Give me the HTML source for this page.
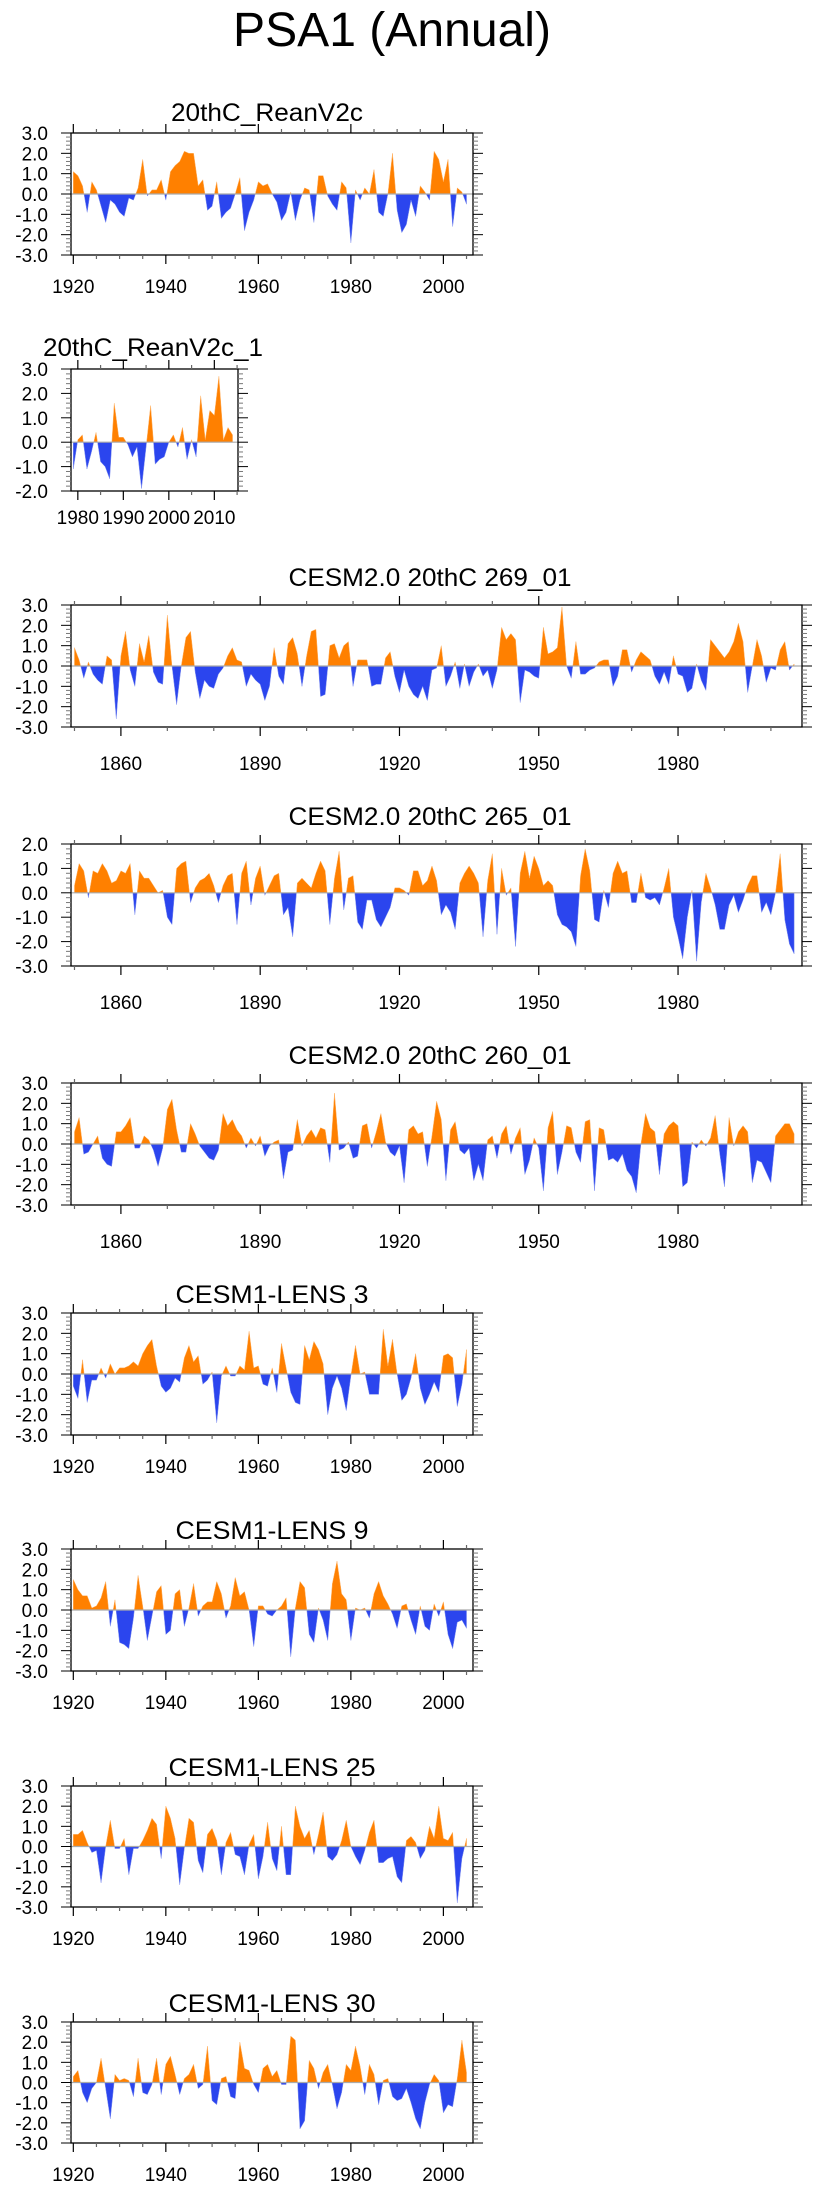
<!DOCTYPE html>
<html><head><meta charset="utf-8"><title>PSA1 (Annual)</title>
<style>
html,body{margin:0;padding:0;background:#fff;}
svg{display:block;font-family:"Liberation Sans",Arial,sans-serif;}
</style></head>
<body>
<svg id="fig" width="825" height="2190" viewBox="0 0 825 2190" xmlns="http://www.w3.org/2000/svg">
<text x="392" y="46" font-size="48" text-anchor="middle" textLength="318" lengthAdjust="spacingAndGlyphs">PSA1 (Annual)</text>
</svg>
<script>
// ---- data (annual PSA1 index values) ----
const reanStart = 1920;
const reanVals = [1.1,0.9,0.4,-0.9,0.6,0.2,-0.6,-1.4,-0.3,-0.5,-0.9,-1.1,-0.2,-0.3,0.3,1.7,-0.1,0.2,0.2,0.7,-0.3,1.1,1.4,1.6,2.1,2.0,2.0,0.4,0.7,-0.8,-0.6,0.6,-1.2,-0.9,-0.7,0.0,0.8,-1.8,-0.9,-0.3,0.6,0.4,0.5,0.0,-0.4,-1.3,-0.9,0.1,-1.3,-0.3,0.3,0.2,-1.4,0.9,0.9,-0.1,-0.5,-0.8,0.6,0.3,-2.4,0.2,-0.3,0.3,0.0,1.2,-0.9,-1.1,0.0,2.0,-0.8,-1.9,-1.5,-0.3,-1.1,0.4,0.1,-0.3,2.1,1.7,0.6,1.7,-1.6,0.3,0.1,-0.5];
const rean1Start = 1979;
const rean1Vals = [-1.1,0.1,0.3,-1.1,-0.4,0.4,-0.8,-1.0,-1.5,1.6,0.2,0.2,-0.1,-0.6,-0.2,-1.9,-0.2,1.5,-0.9,-0.7,-0.6,0.0,0.3,-0.2,0.6,-0.7,0.1,-0.6,1.9,0.1,1.3,1.1,2.7,0.1,0.6,0.3];
const cesm2Start = 1850;
const cesm269Vals = [0.9,0.3,-0.6,0.2,-0.4,-0.7,-0.9,0.5,0.3,-2.6,0.5,1.7,-0.2,-1.0,1.1,0.2,1.5,-0.3,-0.8,-0.9,2.5,0.0,-1.9,0.0,1.4,1.7,-0.3,-1.6,-0.7,-1.0,-1.1,-0.4,-0.1,0.5,0.9,0.3,0.2,-1.0,-0.4,-0.7,-0.9,-1.7,-1.0,0.9,-0.5,-0.9,1.1,1.4,0.6,-1.0,0.5,1.7,1.8,-1.5,-1.4,1.0,1.1,0.4,1.0,1.2,-1.0,0.3,0.3,0.3,-1.0,-0.9,-0.9,0.4,0.7,-0.5,-1.3,-0.2,-1.0,-1.4,-1.6,-1.0,-1.7,-0.2,-0.1,1.0,-1.0,-0.5,0.2,-1.1,0.1,-1.0,-0.3,0.1,-0.5,-0.2,-1.1,-0.2,1.9,1.3,1.6,1.3,-1.8,-0.2,-0.3,-0.5,-0.6,1.9,0.6,0.7,0.9,2.9,0.0,-0.6,1.2,-0.4,-0.4,-0.2,-0.1,0.2,0.3,0.3,-1.0,-0.5,0.8,0.8,-0.3,0.3,0.7,0.5,0.3,-0.5,-0.9,-0.3,-0.9,0.5,-0.4,-0.5,-1.3,-1.1,0.1,-0.7,-1.2,1.3,1.0,0.7,0.4,0.7,1.2,2.1,1.2,-1.3,0.0,1.3,0.5,-0.8,-0.1,-0.2,0.8,1.2,-0.2,0.1];
const cesm265Vals = [0.3,1.2,0.9,-0.2,0.9,0.8,1.2,0.9,0.4,0.5,0.9,0.8,1.2,-0.9,0.9,0.6,0.6,0.3,0.0,0.1,-1.0,-1.3,1.0,1.2,1.3,-0.4,0.2,0.5,0.6,0.8,0.3,-0.4,0.3,0.7,0.8,-1.3,0.8,1.3,-0.5,0.6,1.1,-0.1,0.3,0.7,0.8,-0.9,-0.6,-1.8,0.4,0.6,0.4,0.2,0.8,1.3,0.9,-1.3,0.6,1.7,-0.7,0.6,0.7,-1.2,-1.5,-0.3,-0.3,-1.1,-1.4,-1.0,-0.6,0.2,0.2,0.1,-0.1,0.9,0.9,0.3,0.5,1.1,0.5,-0.9,-0.5,-0.8,-1.5,0.4,0.8,1.1,0.8,0.4,-1.8,0.5,1.6,-1.7,1.0,-0.1,0.2,-2.2,0.8,1.7,0.6,1.5,1.0,0.3,0.5,0.3,-0.9,-1.3,-1.4,-1.6,-2.2,0.7,1.8,0.9,-1.1,-1.2,0.1,-0.6,0.8,1.3,0.8,0.9,-0.4,-0.4,0.8,-0.2,-0.3,-0.2,-0.5,0.2,1.0,-1.0,-1.8,-2.7,-1.0,0.1,-2.8,-0.4,0.8,0.2,-0.5,-1.5,-1.5,-0.5,-0.1,-0.8,-0.3,0.3,0.7,0.7,-0.8,-0.4,-0.9,0.0,1.6,-1.1,-2.1,-2.5];
const cesm260Vals = [0.6,1.3,-0.5,-0.4,0.0,0.4,-0.7,-1.0,-1.1,0.6,0.6,0.9,1.3,-0.2,-0.2,0.4,0.2,-0.3,-1.1,-0.2,1.7,2.2,0.7,-0.4,-0.4,1.0,0.5,-0.1,-0.4,-0.7,-0.8,-0.3,1.5,0.9,1.2,0.7,0.4,-0.2,0.3,-0.1,0.4,-0.6,-0.1,0.1,0.2,-1.7,-0.4,-0.3,1.2,-0.1,0.4,0.7,0.3,0.8,0.7,-0.9,2.5,-0.3,-0.2,0.1,-0.7,-0.6,0.9,1.0,-0.2,0.6,1.5,0.1,-0.4,-0.6,-0.1,-1.9,0.7,0.9,0.5,0.6,-1.1,0.4,2.1,1.2,-1.8,0.7,1.1,-0.3,-0.5,-0.2,-1.8,-1.0,-1.8,0.2,0.4,-0.7,0.5,0.9,-0.5,0.3,0.8,-1.5,-0.8,0.3,-0.2,-2.3,0.8,1.6,-1.5,-0.4,0.9,0.8,-0.4,-0.9,1.1,1.2,-2.3,0.8,0.7,-0.8,-0.7,-0.9,-0.5,-1.3,-1.6,-2.4,0.0,1.5,0.8,0.6,-1.5,0.5,0.9,1.1,0.9,-2.1,-1.9,0.1,-0.2,0.2,-0.1,0.3,1.4,-0.5,-2.1,1.3,-0.1,0.6,0.9,0.6,-1.9,-0.8,-0.9,-1.4,-1.9,0.4,0.7,1.0,1.0,0.5];
const lensStart = 1920;
const lens3Vals = [-0.6,-1.2,0.7,-1.4,-0.3,-0.3,0.3,-0.2,0.5,0.0,0.3,0.3,0.4,0.6,0.4,1.0,1.4,1.7,0.4,-0.6,-0.9,-0.7,-0.2,-0.4,0.8,1.4,0.6,0.9,-0.5,-0.3,0.1,-2.4,-0.1,0.4,-0.1,-0.1,0.4,0.2,2.1,0.3,0.4,-0.5,-0.6,0.3,-0.9,1.5,0.3,-0.9,-1.4,-1.5,1.4,0.7,1.6,1.2,0.5,-2.0,-0.7,-0.1,-0.7,-1.8,-0.1,1.4,0.0,0.1,-1.0,-1.0,-1.0,2.2,0.4,1.7,0.0,-1.3,-1.0,-0.2,1.0,-0.7,-1.5,-1.0,-0.4,-0.9,0.9,1.0,0.8,-1.6,-0.5,1.2];
const lens9Vals = [1.5,1.0,0.7,0.7,0.1,0.2,0.6,1.4,-0.8,0.5,-1.6,-1.7,-1.9,-0.4,1.7,0.2,-1.5,-0.3,0.9,1.2,-1.2,-1.0,0.8,1.0,-0.8,0.1,1.3,-0.3,0.2,0.4,0.4,1.4,0.8,-0.4,0.2,1.6,0.7,0.9,0.0,-1.8,0.2,0.2,-0.2,-0.3,0.0,0.2,0.6,-2.3,0.1,1.4,1.1,-1.2,-1.6,0.1,-0.5,-1.5,1.3,2.4,0.8,0.5,-1.5,0.1,0.0,0.1,-0.4,0.8,1.4,0.7,0.3,-0.2,-0.9,0.2,0.3,-0.5,-1.2,0.2,-0.8,-1.0,0.3,-0.3,0.4,-1.2,-1.9,-0.6,-0.5,-0.9];
const lens25Vals = [0.6,0.6,0.8,0.2,-0.3,-0.2,-1.8,0.0,1.3,-0.1,-0.1,0.4,-1.4,-0.1,-0.1,0.3,0.8,1.4,1.1,-0.6,2.0,1.4,0.4,-1.9,-0.1,1.4,1.2,-0.7,-1.3,0.6,0.9,0.3,-1.4,0.2,0.7,-0.4,-0.5,-1.4,0.1,0.6,-1.6,-0.5,1.2,-0.6,-1.2,1.0,-1.4,-1.4,2.0,1.0,0.4,0.8,-0.4,0.6,1.7,-0.5,-0.7,-0.4,0.3,1.3,0.0,-0.5,-0.9,-0.2,0.7,1.3,-0.8,-0.8,-0.6,-0.5,-1.5,-1.8,0.3,0.5,0.2,-0.6,-0.2,1.0,0.4,2.0,0.4,0.3,0.7,-2.8,-0.6,0.4];
const lens30Vals = [0.3,0.6,-0.5,-1.0,-0.3,0.0,1.2,-0.3,-1.8,0.4,0.1,0.2,0.1,-0.7,1.2,-0.5,-0.6,-0.1,1.2,-0.6,0.9,1.3,0.4,-0.6,0.2,0.4,0.9,-0.3,-0.1,1.8,-0.9,-1.1,0.2,0.3,-0.7,-0.8,2.0,0.7,0.6,-0.1,-0.5,0.7,0.9,0.3,0.6,-0.1,-0.1,2.3,2.1,-2.3,-1.9,1.1,0.7,-0.3,0.5,0.9,-0.1,-1.3,-0.5,0.9,0.6,1.8,0.8,-0.6,0.9,0.4,-1.1,0.1,0.2,-0.7,-0.9,-0.8,-0.3,-1.0,-1.8,-2.3,-1.0,-0.1,0.4,0.1,-1.5,-1.1,-1.2,0.2,2.1,0.5];
const yTickLabels3 = ["3.0","2.0","1.0","0.0","-1.0","-2.0","-3.0"];
const yTickLabels2 = ["2.0","1.0","0.0","-1.0","-2.0","-3.0"];
const yTickLabelsR = ["3.0","2.0","1.0","0.0","-1.0","-2.0"];

const NS = "http://www.w3.org/2000/svg";
const svg = document.getElementById("fig");
function mk(tag, attrs, parent){
  const e = document.createElementNS(NS, tag);
  for (const k in attrs) e.setAttribute(k, attrs[k]);
  (parent||svg).appendChild(e);
  return e;
}

const panels = [
  {name:"20thC_ReanV2c", key:"rean", start:reanStart, vals:reanVals, x0:71, x1:473, top:133, bot:255, ymin:-3, ymax:3, ylabels:yTickLabels3, yr0:1919.5, yr1:2006.4, major:[1920,1940,1960,1980,2000], minorStep:5, tx:267, ty:121, tw:192, lab:38},
  {name:"20thC_ReanV2c_1", key:"rean1", start:rean1Start, vals:rean1Vals, x0:71, x1:238, top:369, bot:491, ymin:-2, ymax:3, ylabels:yTickLabelsR, yr0:1978.5, yr1:2015.2, major:[1980,1990,2000,2010], minorStep:5, tx:153, ty:356, tw:220, lab:33},
  {name:"CESM2.0 20thC 269_01", key:"cesm269", start:cesm2Start, vals:cesm269Vals, x0:71, x1:802, top:605, bot:727, ymin:-3, ymax:3, ylabels:yTickLabels3, yr0:1849.25, yr1:2006.7, major:[1860,1890,1920,1950,1980], minorStep:10, tx:430, ty:586, tw:283, lab:43},
  {name:"CESM2.0 20thC 265_01", key:"cesm265", start:cesm2Start, vals:cesm265Vals, x0:71, x1:802, top:844, bot:966, ymin:-3, ymax:2, ylabels:yTickLabels2, yr0:1849.25, yr1:2006.7, major:[1860,1890,1920,1950,1980], minorStep:10, tx:430, ty:825, tw:283, lab:43},
  {name:"CESM2.0 20thC 260_01", key:"cesm260", start:cesm2Start, vals:cesm260Vals, x0:71, x1:802, top:1083, bot:1205, ymin:-3, ymax:3, ylabels:yTickLabels3, yr0:1849.25, yr1:2006.7, major:[1860,1890,1920,1950,1980], minorStep:10, tx:430, ty:1064, tw:283, lab:43},
  {name:"CESM1-LENS 3", key:"lens3", start:lensStart, vals:lens3Vals, x0:71, x1:473, top:1313, bot:1435, ymin:-3, ymax:3, ylabels:yTickLabels3, yr0:1919.5, yr1:2006.4, major:[1920,1940,1960,1980,2000], minorStep:5, tx:272, ty:1303, tw:193, lab:38},
  {name:"CESM1-LENS 9", key:"lens9", start:lensStart, vals:lens9Vals, x0:71, x1:473, top:1549, bot:1671, ymin:-3, ymax:3, ylabels:yTickLabels3, yr0:1919.5, yr1:2006.4, major:[1920,1940,1960,1980,2000], minorStep:5, tx:272, ty:1539, tw:193, lab:38},
  {name:"CESM1-LENS 25", key:"lens25", start:lensStart, vals:lens25Vals, x0:71, x1:473, top:1786, bot:1907, ymin:-3, ymax:3, ylabels:yTickLabels3, yr0:1919.5, yr1:2006.4, major:[1920,1940,1960,1980,2000], minorStep:5, tx:272, ty:1776, tw:207, lab:38},
  {name:"CESM1-LENS 30", key:"lens30", start:lensStart, vals:lens30Vals, x0:71, x1:473, top:2022, bot:2143, ymin:-3, ymax:3, ylabels:yTickLabels3, yr0:1919.5, yr1:2006.4, major:[1920,1940,1960,1980,2000], minorStep:5, tx:272, ty:2012, tw:207, lab:38}
];

panels.forEach(p => {
  const g = mk("g", {});
  
  
  const xs = yr => p.x0 + (yr - p.yr0) / (p.yr1 - p.yr0) * (p.x1 - p.x0);
  const ys = v => p.bot - (v - p.ymin) / (p.ymax - p.ymin) * (p.bot - p.top);
  // build series with zero crossings
  const pts = [];
  p.vals.forEach((v, i) => {
    const yr = p.start + i;
    if (i > 0) {
      const pv = p.vals[i-1];
      if ((pv > 0 && v < 0) || (pv < 0 && v > 0)) {
        const t = pv / (pv - v);
        pts.push([yr - 1 + t, 0]);
      }
    }
    pts.push([yr, v]);
  });
  const first = pts[0][0], last = pts[pts.length-1][0];
  const z = ys(0);
  function area(sign){
    let d = "M" + xs(first).toFixed(2) + "," + z.toFixed(2);
    pts.forEach(([yr, v]) => {
      const vv = sign > 0 ? Math.max(v, 0) : Math.min(v, 0);
      d += "L" + xs(yr).toFixed(2) + "," + ys(vv).toFixed(2);
    });
    d += "L" + xs(last).toFixed(2) + "," + z.toFixed(2) + "Z";
    return d;
  }
  const pos = mk("path", {d: area(1), fill: "#ff8000", stroke: "#ffb060", "stroke-width": "0.5"}, g);
  
  
  const neg = mk("path", {d: area(-1), fill: "#2b45ee", stroke: "#8090f0", "stroke-width": "0.5"}, g);
  
  
  const zl = mk("line", {x1: p.x0, x2: p.x1, y1: z, y2: z, stroke: "#aaaaaa", "stroke-width": "1.2"}, g);
  
  
  // frame
  const fr = mk("rect", {x: p.x0, y: p.top, width: p.x1 - p.x0, height: p.bot - p.top, fill: "none", stroke: "#000", "stroke-width": "1.3"}, g);
  
  
  // y ticks
  for (let k = 0; k <= Math.round((p.ymax - p.ymin) / 0.2); k++) {
    const v = p.ymin + k * 0.2;
    const y = ys(v);
    const isMajor = Math.abs(v - Math.round(v)) < 1e-6;
    const len = isMajor ? 10 : 5;
    const col = isMajor ? "#000" : "#777";
    mk("line", {x1: p.x0 - len, x2: p.x0, y1: y, y2: y, stroke: col, "stroke-width": "1"}, g);
    mk("line", {x1: p.x1, x2: p.x1 + len, y1: y, y2: y, stroke: col, "stroke-width": "1"}, g);
  }
  p.ylabels.forEach(lbl => {
    const v = parseFloat(lbl);
    const t = mk("text", {x: 48, y: ys(v) + 7, "font-size": "19", "text-anchor": "end"}, g);
    
    
    t.textContent = lbl;
  });
  // x ticks
  const firstMinor = Math.ceil(p.yr0 / p.minorStep) * p.minorStep;
  for (let yr = firstMinor; yr <= p.yr1; yr += p.minorStep) {
    const x = xs(yr);
    const isMajor = p.major.indexOf(yr) >= 0;
    const len = isMajor ? 9 : 4;
    const col = isMajor ? "#000" : "#666";
    mk("line", {x1: x, x2: x, y1: p.top - len, y2: p.top, stroke: col, "stroke-width": "1.2"}, g);
    mk("line", {x1: x, x2: x, y1: p.bot, y2: p.bot + len, stroke: col, "stroke-width": "1.2"}, g);
  }
  p.major.forEach(yr => {
    const t = mk("text", {x: xs(yr), y: p.bot + p.lab, "font-size": "19", "text-anchor": "middle"}, g);
    
    
    t.textContent = String(yr);
  });
  const tt = mk("text", {x: p.tx, y: p.ty, "font-size": "25", "text-anchor": "middle", textLength: p.tw, lengthAdjust: "spacingAndGlyphs"}, g);
  
  
  tt.textContent = p.name;
});
</script>
</body></html>
